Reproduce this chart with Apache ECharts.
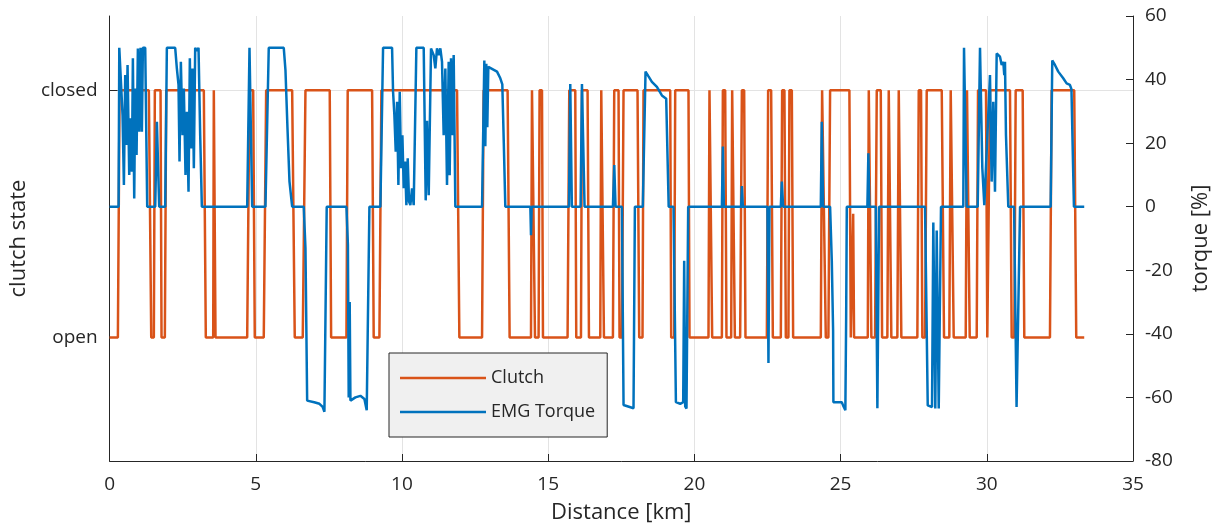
<!DOCTYPE html>
<html><head><meta charset="utf-8">
<script src="https://cdn.jsdelivr.net/npm/echarts@6/dist/echarts.min.js"></script>
<style>html,body{margin:0;padding:0;background:#fff}#c{width:1220px;height:529px}</style>
</head><body><div id="c"></div>
<script>
// Clutch state (0 = open, 1 = closed) along distance [km]
const clutchKm = [0,0.284,0.342,1.343,1.425,1.514,1.548,1.743,1.777,1.890,1.938,3.223,3.291,3.544,3.565,3.59,3.623,4.706,4.785,4.911,4.966,5.273,5.355,6.244,6.333,6.606,6.699,7.529,7.577,8.100,8.144,8.978,9.033,9.228,9.296,11.883,11.962,12.738,12.792,13.612,13.681,14.412,14.446,14.501,14.549,14.672,14.706,14.788,14.822,15.663,15.721,15.926,15.960,16.121,16.155,16.347,16.394,16.781,16.815,16.859,16.907,17.214,17.259,17.406,17.440,17.522,17.577,18.055,18.113,18.226,18.260,19.173,19.207,19.310,19.344,19.798,19.833,20.482,20.516,20.564,20.608,20.940,20.974,21.053,21.097,21.258,21.292,21.337,21.384,21.565,21.624,21.702,21.747,22.478,22.522,22.625,22.683,22.956,23.001,23.079,23.127,23.216,23.250,23.332,23.377,24.323,24.368,24.436,24.494,24.583,24.641,25.301,25.349,25.400,25.430,25.461,25.930,25.964,26.008,26.053,26.179,26.237,26.374,26.419,26.599,26.647,26.692,26.736,26.941,26.989,27.033,27.078,27.625,27.673,27.751,27.796,27.888,27.946,28.459,28.537,28.718,28.766,28.821,28.869,29.279,29.323,29.368,29.416,29.655,29.700,29.973,30.017,30.051,30.109,30.793,30.851,30.940,30.988,31.227,31.282,32.160,32.218,32.990,33.059,33.332];
const clutchState = [0,0,1,1,0,0,1,1,0,0,1,1,0,0,1,1,0,0,1,1,0,0,1,1,0,0,1,1,0,0,1,1,0,0,1,1,0,0,1,1,0,0,1,1,0,0,1,1,0,0,1,1,0,0,1,1,0,0,1,1,0,0,1,1,0,0,1,1,0,0,1,1,0,0,1,1,0,0,1,1,0,0,1,1,0,0,1,1,0,0,1,1,0,0,1,1,0,0,1,1,0,0,1,1,0,0,1,1,0,0,1,1,0,0,0.5,0,0,1,1,0,0,1,1,0,0,1,1,0,0,1,1,0,0,1,1,0,0,1,1,0,0,1,1,0,0,1,1,0,0,1,1,0,0,1,1,0,0,1,1,0,0,1,1,0,0];

// EMG torque [%] along distance [km]
const torqueKm = [0,0.308,0.332,0.399,0.444,0.490,0.535,0.570,0.615,0.672,0.718,0.763,0.797,0.843,0.877,0.923,0.968,1.014,1.059,1.105,1.139,1.219,1.287,1.561,1.618,1.697,1.903,1.959,2.244,2.301,2.358,2.392,2.438,2.495,2.540,2.597,2.643,2.700,2.745,2.791,2.837,2.882,2.928,2.985,3.042,3.099,3.156,4.706,4.785,4.877,5.331,5.444,5.957,6.015,6.083,6.152,6.244,6.640,6.699,6.757,7.0,7.177,7.289,7.347,7.426,8.100,8.151,8.178,8.212,8.237,8.408,8.578,8.715,8.794,8.828,8.886,9.262,9.353,9.661,9.695,9.740,9.786,9.832,9.877,9.923,9.968,10.014,10.059,10.105,10.150,10.196,10.241,10.287,10.344,10.401,10.492,10.743,10.811,10.857,10.914,10.993,11.084,11.141,11.198,11.255,11.312,11.369,11.426,11.483,11.540,11.597,11.631,11.677,11.722,11.768,11.825,12.738,12.816,12.850,12.884,12.918,12.953,13.021,13.250,13.363,13.431,13.482,13.534,14.390,14.412,14.435,15.711,15.755,15.810,16.108,16.155,16.244,17.214,17.259,17.304,17.522,17.577,17.918,17.965,18.236,18.329,18.431,18.547,18.718,18.889,19.036,19.121,19.286,19.368,19.515,19.617,19.651,19.686,19.730,19.788,20.940,20.974,21.008,21.600,21.624,21.658,22.498,22.533,22.567,22.956,22.990,23.035,24.323,24.357,24.402,24.641,24.699,24.744,24.754,25.041,25.085,25.163,25.190,25.212,25.916,25.950,25.984,26.203,26.258,26.316,27.888,27.980,28.127,28.171,28.239,28.287,28.356,28.434,29.196,29.221,29.313,29.689,29.768,29.847,29.915,30.109,30.166,30.222,30.280,30.338,30.451,30.509,30.564,30.598,30.622,30.656,30.735,30.933,31.018,31.052,31.138,32.184,32.239,32.331,32.444,32.502,32.614,32.730,32.843,32.895,32.980,33.332];
const torqueVal = [0,0,50,50,28.8,6.8,41.4,19.4,44.6,10,27.8,11,46.7,2.6,37.2,16.3,49.8,23.6,50,23.6,50,50,0,0,26.7,0,0,50,50,43.5,38.3,14.2,45.6,22.5,37.2,10,29.9,4.7,46.7,18.3,43.5,12.1,50,49,50,22.5,0,0,50,0,0,50,50,43,25,8,0,0,-13,-61,-61.5,-62,-63,-64.5,0,0,-12,-60,-30,-61,-60,-59.5,-60.5,-64,-40,0,0,50,50,36.2,28.8,17.3,33,6.8,36.2,12.1,22.5,5.8,14.2,0.5,15.2,1.6,0.5,5.8,0.5,50,50,2,27,3.6,49.8,47.7,43.5,49.8,47.7,49.8,45.6,22.5,43.5,6.8,45.6,9.9,46.7,22.5,47.7,0,0,46,19,45,25,44,44,42.5,40.4,38.5,20,0,0,-9,0,0,38.6,0,0,38.6,0,0,13.1,0,0,-62.4,-63.4,0,0,42.5,41,39.3,37.7,35,34,0,0,-61.5,-62,-61.5,-17,-62.8,-63.5,0,0,18.9,0,0,6.5,0,0,-49.2,0,0,7.9,0,0,26.7,0,0,-17,-39,-61.5,-61.5,-62.5,-64,-35,0,0,16.8,0,0,-63.4,0,0,-62.5,-63,-5,-63.5,-7.5,-63.5,0,0,50,0,0,50,12.1,0.5,41.4,7.9,33,4.7,48.2,47.2,44.6,45.6,41.4,45.6,22.5,0,0,-63,-63.5,0,0,46,44.6,42.5,43,40.4,38.8,38.3,37,0,0];

const clutchTickValues = [0, 1];
const clutchTickLabels = ['open', 'closed'];

const FONT = '"Open Sans", sans-serif';
const AX = '#262626';
const zip = (a, b) => a.map((v, i) => [v, b[i]]);

const chart = echarts.init(document.getElementById('c'), null, {renderer: 'canvas'});
chart.setOption({
  animation: false,
  textStyle: {fontFamily: FONT},
  grid: {left: 109, right: 87, top: 16, bottom: 67, containLabel: false},
  legend: {
    orient: 'vertical', left: 389, top: 353,
    data: ['Clutch', 'EMG Torque'],
    icon: 'rect', itemWidth: 86, itemHeight: 2.5, itemGap: 12,
    padding: [14, 12, 14, 11],
    backgroundColor: '#f0f0f0', borderColor: AX, borderWidth: 1, borderRadius: 0,
    textStyle: {fontFamily: FONT, fontSize: 18, color: AX, lineHeight: 22},
    selectedMode: false
  },
  xAxis: {
    type: 'value', min: 0, max: 35, interval: 5,
    name: 'Distance [km]', nameLocation: 'middle', nameGap: 41,
    nameTextStyle: {fontFamily: FONT, fontSize: 22, color: AX},
    axisLine: {show: true, onZero: false, lineStyle: {color: AX, width: 1}},
    axisTick: {show: true, inside: true, length: 7, lineStyle: {color: AX}},
    axisLabel: {fontFamily: FONT, fontSize: 19, color: AX, margin: 14},
    splitLine: {show: true, lineStyle: {color: '#e3e3e3', width: 1}}
  },
  yAxis: [
    {
      type: 'value', min: -0.5, max: 1.3, interval: 0.5, position: 'left',
      name: 'clutch state', nameLocation: 'middle', nameRotate: 90, nameGap: 75,
      nameTextStyle: {fontFamily: FONT, fontSize: 22, color: AX},
      axisLine: {show: true, onZero: false, lineStyle: {color: AX, width: 1}},
      axisTick: {show: true, inside: true, length: 8, customValues: clutchTickValues, lineStyle: {color: AX}},
      axisLabel: {
        customValues: clutchTickValues,
        formatter: v => { const i = clutchTickValues.indexOf(Math.round(v * 100) / 100); return i >= 0 ? clutchTickLabels[i] : ''; },
        fontFamily: FONT, fontSize: 19, color: AX, margin: 12
      },
      splitLine: {show: true, lineStyle: {color: ['rgba(0,0,0,0)', '#e3e3e3'], width: 1}}
    },
    {
      type: 'value', min: -80, max: 60, interval: 20, position: 'right',
      name: 'torque [%]', nameLocation: 'middle', nameRotate: 90, nameGap: 57,
      nameTextStyle: {fontFamily: FONT, fontSize: 22, color: AX},
      axisLine: {show: true, onZero: false, lineStyle: {color: AX, width: 1}},
      axisTick: {show: true, inside: true, length: 7, lineStyle: {color: AX}},
      axisLabel: {fontFamily: FONT, fontSize: 19, color: AX, margin: 12},
      splitLine: {show: false}
    }
  ],
  series: [
    {
      name: 'Clutch', type: 'line', yAxisIndex: 0, data: zip(clutchKm, clutchState),
      showSymbol: false, symbol: 'none', silent: true,
      color: '#D95319', lineStyle: {color: '#D95319', width: 2.5}, z: 2
    },
    {
      name: 'EMG Torque', type: 'line', yAxisIndex: 1, data: zip(torqueKm, torqueVal),
      showSymbol: false, symbol: 'none', silent: true,
      color: '#0072BD', lineStyle: {color: '#0072BD', width: 2.5}, z: 3
    }
  ]
});
</script>
</body></html>
